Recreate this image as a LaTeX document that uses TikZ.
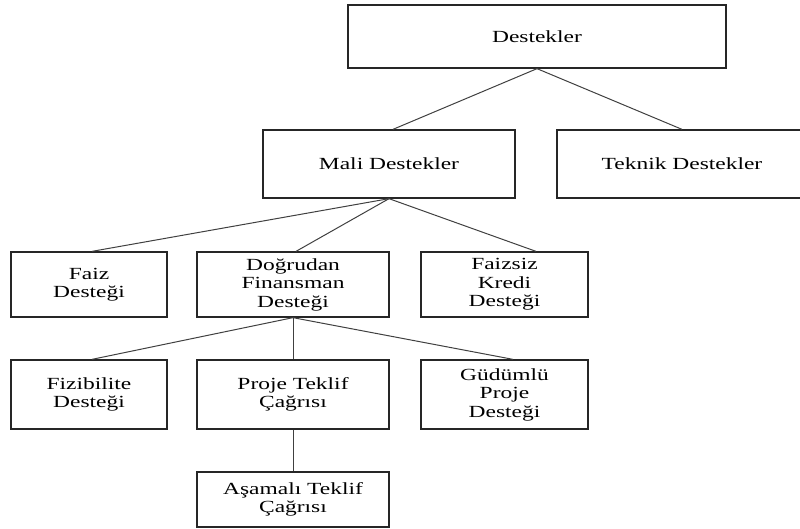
\documentclass[tikz,border=0pt]{standalone}
\usepackage{fontspec}
\newfontfamily\boxfont{Liberation Serif}[FakeStretch=1.38]
\tikzset{
    kutu/.style={draw=black!85, line width=1.3pt, fill=white, inner sep=0pt,
        align=center, font=\boxfont\fontsize{17}{18.5}\selectfont},
    bag/.style={draw=black!75, line width=1pt}
}

\begin{document}
\begin{tikzpicture}[x=1pt, y=-1pt]
    % Keep the page the size of the reference
    \useasboundingbox (0,0) rectangle (800,528);

    % Draw the top level
    \node[kutu, minimum width=378pt, minimum height=63pt] (destek) at (537,36.5) {Destekler};

    % Draw the second level
    \node[kutu, minimum width=252pt, minimum height=68pt] (mali) at (389,164) {Mali Destekler};
    \node[kutu, minimum width=250pt, minimum height=68pt] (teknik) at (682,164) {Teknik Destekler};

    % Draw the third level
    \node[kutu, minimum width=156pt, minimum height=65pt] (faiz) at (89,284.5) {Faiz\\Desteği};
    \node[kutu, minimum width=192pt, minimum height=65pt] (dogrudan) at (293,284.5) {Doğrudan\\Finansman\\Desteği};
    \node[kutu, minimum width=167pt, minimum height=65pt] (faizsiz) at (504.5,284.5) {Faizsiz\\Kredi\\Desteği};

    % Draw the fourth level
    \node[kutu, minimum width=156pt, minimum height=69pt] (fizibilite) at (89,394.5) {Fizibilite\\Desteği};
    \node[kutu, minimum width=192pt, minimum height=69pt] (proje) at (293,394.5) {Proje Teklif\\Çağrısı};
    \node[kutu, minimum width=167pt, minimum height=69pt] (gudumlu) at (504.5,394.5) {Güdümlü\\Proje\\Desteği};

    % Draw the last box
    \node[kutu, minimum width=192pt, minimum height=55pt] (asamali) at (293,499.5) {Aşamalı Teklif\\Çağrısı};

    % Connect the boxes
    \draw[bag] (destek.south) -- ([xshift=4pt]mali.north);
    \draw[bag] (destek.south) -- (teknik.north);
    \draw[bag] (mali.south) -- ([xshift=3pt]faiz.north);
    \draw[bag] (mali.south) -- ([xshift=3pt]dogrudan.north);
    \draw[bag] (mali.south) -- ([xshift=31.5pt]faizsiz.north);
    \draw[bag] (dogrudan.south) -- ([xshift=3pt]fizibilite.north);
    \draw[bag] (dogrudan.south) -- (proje.north);
    \draw[bag] (dogrudan.south) -- ([xshift=8.5pt]gudumlu.north);
    \draw[bag] (proje.south) -- (asamali.north);

\end{tikzpicture}
\end{document}
